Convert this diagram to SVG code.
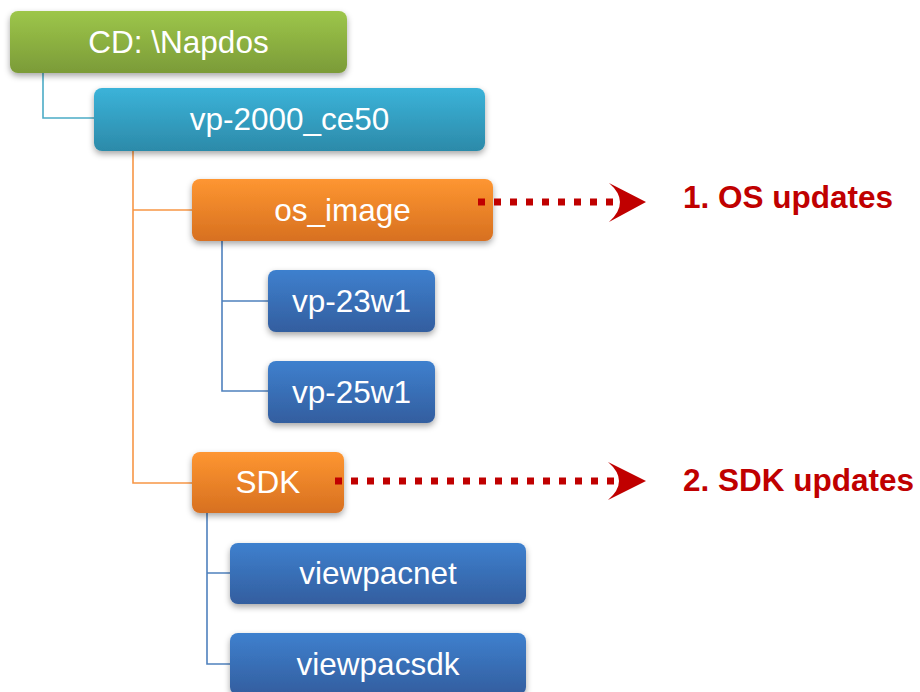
<svg xmlns="http://www.w3.org/2000/svg" width="920" height="692" viewBox="0 0 920 692">
<defs>
<linearGradient id="gGreen" x1="0" y1="0" x2="0" y2="1"><stop offset="0" stop-color="#9DC64A"/><stop offset="1" stop-color="#7B9B38"/></linearGradient>
<linearGradient id="gTeal" x1="0" y1="0" x2="0" y2="1"><stop offset="0" stop-color="#3BB3D9"/><stop offset="1" stop-color="#2C8AA9"/></linearGradient>
<linearGradient id="gOrange" x1="0" y1="0" x2="0" y2="1"><stop offset="0" stop-color="#FE9631"/><stop offset="1" stop-color="#D77020"/></linearGradient>
<linearGradient id="gBlue" x1="0" y1="0" x2="0" y2="1"><stop offset="0" stop-color="#3E80CE"/><stop offset="1" stop-color="#335E9F"/></linearGradient>
<filter id="shadow" x="-10%" y="-20%" width="120%" height="160%"><feDropShadow dx="0" dy="3" stdDeviation="3" flood-color="#000" flood-opacity="0.35"/></filter>
</defs>
<style>
.box{filter:url(#shadow);}
.t{font-family:"Liberation Sans",Arial,sans-serif;font-size:31.5px;fill:#fff;text-anchor:middle;}
.lbl{font-family:"Liberation Sans",Arial,sans-serif;font-size:31.5px;font-weight:bold;fill:#C00000;}
.dot{stroke:#C00000;stroke-width:7;stroke-dasharray:7 9;fill:none;}
.head{fill:#C00000;}
.cn{fill:none;stroke-width:1.6;}
</style>
<g id="connectors">
<path class="cn" stroke="#4BACC6" d="M43,73 V118 H94"/>
<path class="cn" stroke="#F79646" d="M133,151 V483 H192 M133,210 H192"/>
<path class="cn" stroke="#4F81BD" d="M222,241 V391 H268 M222,301 H268"/>
<path class="cn" stroke="#4F81BD" d="M207,513 V664 H230 M207,573 H230"/>
</g>
<g id="n-cd"><rect class="box" x="10" y="11" width="337" height="62" rx="8" fill="url(#gGreen)"/><text class="t" x="178.5" y="53">CD: \Napdos</text></g>
<g id="n-vp2000"><rect class="box" x="94" y="88" width="391" height="63" rx="8" fill="url(#gTeal)"/><text class="t" x="289.5" y="130">vp-2000_ce50</text></g>
<g id="n-osimage"><rect class="box" x="192" y="179" width="301" height="62" rx="8" fill="url(#gOrange)"/><text class="t" x="342.5" y="221">os_image</text></g>
<g id="n-vp23"><rect class="box" x="268" y="270" width="167" height="62" rx="8" fill="url(#gBlue)"/><text class="t" x="351.5" y="312">vp-23w1</text></g>
<g id="n-vp25"><rect class="box" x="268" y="361" width="167" height="62" rx="8" fill="url(#gBlue)"/><text class="t" x="351.5" y="403">vp-25w1</text></g>
<g id="n-sdk"><rect class="box" x="192" y="452" width="152" height="61" rx="8" fill="url(#gOrange)"/><text class="t" x="268" y="493">SDK</text></g>
<g id="n-viewpacnet"><rect class="box" x="230" y="543" width="296" height="61" rx="8" fill="url(#gBlue)"/><text class="t" x="378" y="584">viewpacnet</text></g>
<g id="n-viewpacsdk"><rect class="box" x="230" y="633" width="296" height="62" rx="8" fill="url(#gBlue)"/><text class="t" x="378" y="675">viewpacsdk</text></g>
<g id="arrows">
<path class="dot" d="M478,202 H614"/>
<path class="head" d="M609,183 L646,202 L609,222 Q631,202 609,183 Z"/>
<path class="dot" d="M335,481 H614"/>
<path class="head" d="M608,462 L646,481 L608,500 Q630,481 608,462 Z"/>
</g>
<g id="labels">
<text class="lbl" x="683" y="208">1. OS updates</text>
<text class="lbl" x="683" y="491">2. SDK updates</text>
</g>
</svg>
